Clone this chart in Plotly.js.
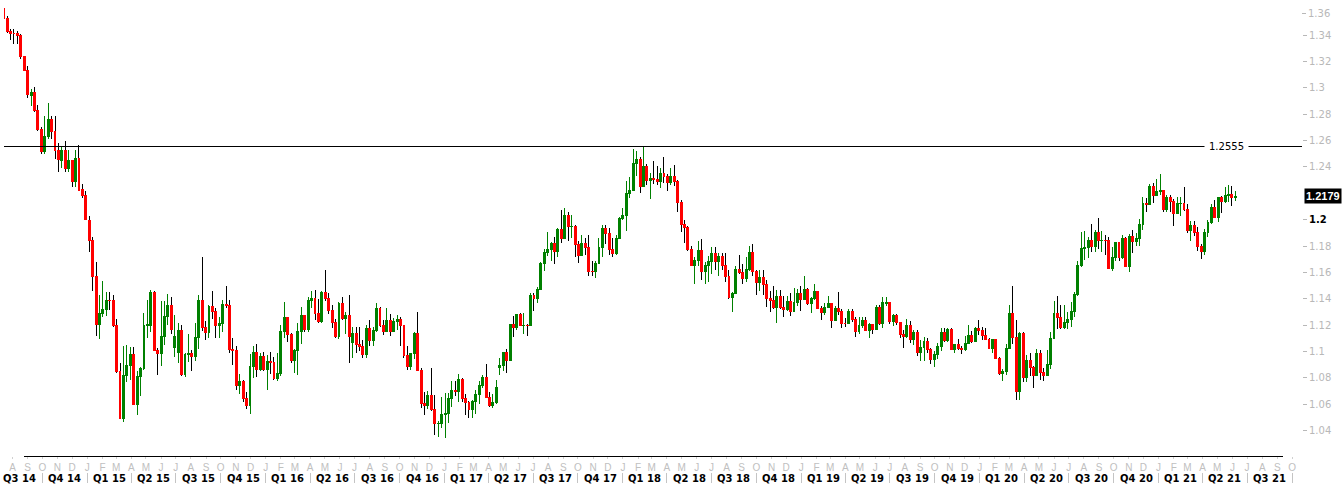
<!DOCTYPE html>
<html><head><meta charset="utf-8">
<script src="https://cdn.plot.ly/plotly-3.0.1.min.js"></script>
<style>
html,body{margin:0;padding:0;background:#fff;}
#chart{width:1343px;height:484px;}
#chart .boxlayer path, #chart .shapelayer path{shape-rendering:crispEdges;}
</style>
</head><body><div id="chart"></div>
<script>
// Weekly EUR/USD candles, first week starting 2014-07-14
const firstWeekStart = [2014, 6, 14];
const openP = [
// 2014
1.3605,1.3525,1.3430,1.3415,1.3410,1.3400,1.3240,1.3130,1.2945,1.2965,1.2830,1.2685,1.2520,1.2630,1.2760,1.2670,1.2525,1.2450,1.2525,1.2390,1.2450,1.2290,1.2465,1.2230,1.2185,
// 2015
1.1995,1.1840,1.1565,1.1205,1.1290,1.1315,1.1390,1.1385,1.1195,1.0845,1.0495,1.0820,1.0890,1.0980,1.0600,1.0810,1.0870,1.1200,1.1200,1.1450,1.1010,1.0985,1.1115,1.1265,1.1350,1.1030,1.0990,1.1160,1.0825,1.0980,1.0985,1.0965,1.1105,1.1385,1.1185,1.1145,1.1340,1.1300,1.1195,1.1215,1.1360,1.1345,1.1015,1.1005,1.0740,1.0770,1.0645,1.0590,1.0885,1.0990,1.0865,1.0965,
// 2016
1.0860,1.0925,1.0915,1.0795,1.0830,1.1155,1.1255,1.1130,1.0930,1.1005,1.1150,1.1270,1.1165,1.1390,1.1400,1.1285,1.1225,1.1450,1.1400,1.1310,1.1220,1.1115,1.1365,1.1250,1.1275,1.1070,1.1135,1.1050,1.1040,1.0975,1.1175,1.1085,1.1160,1.1325,1.1200,1.1155,1.1235,1.1155,1.1225,1.1240,1.1200,1.0970,1.0885,1.0985,1.1140,1.0855,1.0605,1.0590,1.0665,1.0560,1.0450,1.0455,
// 2017
1.0520,1.0530,1.0640,1.0700,1.0695,1.0785,1.0640,1.0615,1.0560,1.0620,1.0670,1.0740,1.0800,1.0650,1.0590,1.0615,1.0880,1.0895,1.0995,1.0930,1.1205,1.1185,1.1280,1.1195,1.1200,1.1195,1.1425,1.1400,1.1470,1.1665,1.1750,1.1775,1.1820,1.1760,1.1925,1.1860,1.2035,1.1945,1.1950,1.1813,1.1730,1.1820,1.1785,1.1610,1.1605,1.1665,1.1790,1.1935,1.1895,1.1770,1.1745,1.1860,
// 2018
1.2005,1.2030,1.2200,1.2220,1.2425,1.2460,1.2255,1.2405,1.2295,1.2310,1.2305,1.2290,1.2350,1.2325,1.2280,1.2330,1.2290,1.2130,1.1960,1.1940,1.1770,1.1655,1.1690,1.1765,1.1610,1.1655,1.1685,1.1745,1.1685,1.1720,1.1655,1.1570,1.1410,1.1440,1.1620,1.1600,1.1555,1.1625,1.1750,1.1605,1.1525,1.1560,1.1510,1.1400,1.1385,1.1335,1.1415,1.1330,1.1315,1.1380,1.1305,1.1370,1.1440,
// 2019
1.1395,1.1470,1.1365,1.1405,1.1455,1.1325,1.1295,1.1335,1.1365,1.1235,1.1325,1.1300,1.1215,1.1215,1.1300,1.1245,1.1150,1.1200,1.1235,1.1160,1.1205,1.1170,1.1335,1.1210,1.1365,1.1370,1.1225,1.1270,1.1220,1.1125,1.1110,1.1200,1.1090,1.1145,1.0990,1.1030,1.1075,1.1015,1.0940,1.0980,1.1040,1.1145,1.1080,1.1165,1.1015,1.1050,1.1020,1.1015,1.1060,1.1120,1.1075,1.1175,
// 2020
1.1160,1.1120,1.1090,1.1025,1.1090,1.0945,1.0830,1.0845,1.1025,1.1285,1.1105,1.0695,1.1140,1.0800,1.0935,1.0875,1.0820,1.0985,1.0840,1.0820,1.0900,1.1100,1.1290,1.1255,1.1180,1.1220,1.1245,1.1300,1.1430,1.1655,1.1780,1.1785,1.1840,1.1795,1.1905,1.1840,1.1845,1.1840,1.1630,1.1715,1.1825,1.1715,1.1860,1.1645,1.1875,1.1835,1.1855,1.1960,1.2120,1.2115,1.2255,1.2185,
// 2021
1.2215,1.2220,1.2080,1.2170,1.2135,1.2045,1.2120,1.2120,1.2075,1.1915,1.1955,1.1905,1.1795,1.1760,1.1900,1.1980,1.2095,1.2020,1.2165,1.2140,1.2180,1.2190,1.2165
];
const highP = [
1.3640,1.3545,1.3445,1.3445,1.3434,1.3410,1.3245,1.3165,1.2995,1.3010,1.2870,1.2700,1.2790,1.2887,1.2790,1.2790,1.2580,1.2550,1.2600,1.2530,1.2455,1.2530,1.2570,1.2270,1.2220,
1.2030,1.1870,1.1680,1.1425,1.1535,1.1450,1.1450,1.1425,1.1245,1.0910,1.1043,1.1052,1.1035,1.1035,1.0850,1.0885,1.1290,1.1390,1.1467,1.1460,1.1025,1.1385,1.1385,1.1436,1.1410,1.1280,1.1215,1.1200,1.0990,1.1130,1.1010,1.1215,1.1430,1.1714,1.1230,1.1355,1.1460,1.1330,1.1265,1.1390,1.1495,1.1390,1.1100,1.1040,1.0830,1.0780,1.0690,1.0980,1.1040,1.1060,1.0985,1.0995,
1.0970,1.0995,1.0960,1.0985,1.1200,1.1376,1.1260,1.1140,1.1020,1.1218,1.1340,1.1275,1.1410,1.1455,1.1464,1.1400,1.1460,1.1616,1.1445,1.1350,1.1250,1.1375,1.1415,1.1300,1.1428,1.1185,1.1185,1.1185,1.1085,1.1200,1.1235,1.1185,1.1365,1.1340,1.1240,1.1327,1.1285,1.1255,1.1280,1.1260,1.1200,1.1040,1.0990,1.1145,1.1300,1.0875,1.0690,1.0700,1.0874,1.0670,1.0475,1.0655,
1.0685,1.0685,1.0775,1.0775,1.0830,1.0800,1.0680,1.0625,1.0630,1.0710,1.0775,1.0825,1.0905,1.0690,1.0680,1.0780,1.0950,1.0995,1.1020,1.1210,1.1270,1.1285,1.1295,1.1295,1.1210,1.1445,1.1440,1.1490,1.1680,1.1775,1.1910,1.1830,1.1865,1.1940,1.2070,1.2090,1.2055,1.2035,1.1960,1.1835,1.1880,1.1860,1.1880,1.1690,1.1690,1.1860,1.1960,1.1960,1.1940,1.1860,1.1880,1.2020,
1.2090,1.2295,1.2325,1.2537,1.2520,1.2475,1.2555,1.2425,1.2355,1.2445,1.2410,1.2390,1.2475,1.2350,1.2395,1.2415,1.2300,1.2150,1.1995,1.1955,1.1800,1.1720,1.1840,1.1850,1.1675,1.1725,1.1790,1.1790,1.1750,1.1750,1.1745,1.1620,1.1450,1.1650,1.1735,1.1665,1.1720,1.1800,1.1815,1.1620,1.1620,1.1620,1.1545,1.1455,1.1500,1.1470,1.1470,1.1420,1.1420,1.1440,1.1485,1.1475,1.1500,
1.1570,1.1485,1.1415,1.1515,1.1460,1.1345,1.1370,1.1420,1.1370,1.1345,1.1450,1.1325,1.1255,1.1325,1.1325,1.1265,1.1265,1.1265,1.1265,1.1215,1.1210,1.1350,1.1350,1.1410,1.1410,1.1375,1.1285,1.1285,1.1225,1.1160,1.1250,1.1230,1.1160,1.1165,1.1085,1.1110,1.1100,1.1025,1.1000,1.1065,1.1180,1.1180,1.1175,1.1175,1.1055,1.1095,1.1040,1.1115,1.1200,1.1155,1.1185,1.1240,
1.1185,1.1175,1.1100,1.1095,1.1095,1.0960,1.0865,1.1055,1.1355,1.1495,1.1235,1.1145,1.1145,1.0970,1.0990,1.0890,1.1020,1.1010,1.0875,1.1010,1.1145,1.1385,1.1422,1.1350,1.1350,1.1300,1.1375,1.1450,1.1690,1.1910,1.1915,1.1865,1.1965,1.1925,1.2010,1.1915,1.1885,1.1870,1.1790,1.1830,1.1830,1.1880,1.1870,1.1890,1.1920,1.1895,1.2005,1.2175,1.2165,1.2272,1.2275,1.2310,
1.2350,1.2225,1.2190,1.2185,1.2155,1.2170,1.2170,1.2245,1.2115,1.1990,1.1990,1.1945,1.1815,1.1930,1.1995,1.2115,1.2150,1.2170,1.2180,1.2245,1.2265,1.2255,1.2218
];
const lowP = [
1.3490,1.3420,1.3366,1.3333,1.3334,1.3220,1.3130,1.2920,1.2860,1.2815,1.2675,1.2500,1.2500,1.2615,1.2610,1.2460,1.2358,1.2390,1.2360,1.2360,1.2247,1.2250,1.2215,1.2165,1.2000,
1.1755,1.1460,1.1115,1.1098,1.1260,1.1270,1.1315,1.1185,1.0840,1.0487,1.0462,1.0765,1.0785,1.0600,1.0520,1.0660,1.0860,1.1105,1.1150,1.1000,1.0820,1.0890,1.1050,1.1200,1.1135,1.0955,1.0915,1.0810,1.0808,1.0920,1.0850,1.0930,1.1020,1.1155,1.1087,1.1100,1.1250,1.1105,1.1105,1.1150,1.1330,1.0990,1.0895,1.0705,1.0675,1.0620,1.0565,1.0525,1.0800,1.0805,1.0850,1.0850,
1.0710,1.0830,1.0780,1.0775,1.0810,1.1100,1.1070,1.0915,1.0835,1.0822,1.1055,1.1145,1.1145,1.1330,1.1235,1.1215,1.1215,1.1385,1.1285,1.1180,1.1100,1.1095,1.1235,1.1130,1.0912,1.0950,1.0990,1.1000,1.0950,1.0950,1.1045,1.1045,1.1150,1.1185,1.1125,1.1150,1.1120,1.1150,1.1165,1.1045,1.0950,1.0860,1.0860,1.0940,1.0850,1.0570,1.0520,1.0560,1.0545,1.0365,1.0352,1.0420,
1.0340,1.0455,1.0580,1.0660,1.0620,1.0620,1.0520,1.0495,1.0495,1.0525,1.0600,1.0725,1.0650,1.0580,1.0570,1.0600,1.0820,1.0850,1.0840,1.0925,1.1110,1.1165,1.1195,1.1130,1.1120,1.1190,1.1310,1.1370,1.1465,1.1610,1.1725,1.1690,1.1660,1.1720,1.1820,1.1855,1.1840,1.1860,1.1715,1.1670,1.1730,1.1730,1.1575,1.1575,1.1555,1.1660,1.1715,1.1815,1.1730,1.1715,1.1735,1.1855,
1.1995,1.1915,1.2165,1.2215,1.2335,1.2205,1.2250,1.2260,1.2155,1.2270,1.2260,1.2240,1.2280,1.2215,1.2260,1.2255,1.2055,1.1910,1.1820,1.1760,1.1645,1.1510,1.1645,1.1540,1.1510,1.1525,1.1590,1.1615,1.1575,1.1615,1.1530,1.1400,1.1300,1.1435,1.1590,1.1510,1.1525,1.1610,1.1570,1.1430,1.1460,1.1430,1.1335,1.1300,1.1320,1.1215,1.1325,1.1265,1.1310,1.1270,1.1300,1.1345,1.1305,
1.1390,1.1350,1.1290,1.1390,1.1320,1.1235,1.1280,1.1330,1.1175,1.1230,1.1275,1.1180,1.1185,1.1210,1.1225,1.1110,1.1135,1.1175,1.1155,1.1105,1.1130,1.1165,1.1200,1.1180,1.1345,1.1205,1.1195,1.1200,1.1100,1.1025,1.1100,1.1065,1.1050,1.0965,1.0925,1.0925,1.0990,1.0905,1.0880,1.0940,1.1000,1.1075,1.1075,1.1010,1.0990,1.1010,1.0980,1.1005,1.1055,1.1065,1.1070,1.1125,
1.1085,1.1085,1.1020,1.0990,1.0940,1.0825,1.0778,1.0820,1.1015,1.1055,1.0635,1.0635,1.0770,1.0770,1.0810,1.0725,1.0810,1.0780,1.0775,1.0815,1.0870,1.1095,1.1170,1.1170,1.1170,1.1170,1.1185,1.1260,1.1420,1.1640,1.1695,1.1710,1.1755,1.1755,1.1780,1.1755,1.1735,1.1625,1.1610,1.1690,1.1690,1.1700,1.1640,1.1605,1.1745,1.1800,1.1800,1.1925,1.2060,1.2110,1.2130,1.2180,
1.2190,1.2055,1.2055,1.2060,1.1950,1.2040,1.2025,1.2065,1.1895,1.1835,1.1875,1.1760,1.1705,1.1735,1.1870,1.1965,1.2015,1.1985,1.2050,1.2130,1.2135,1.2105,1.2145
];
const closeP = [
1.3525,1.3430,1.3415,1.3410,1.3400,1.3240,1.3130,1.2950,1.2965,1.2830,1.2685,1.2520,1.2630,1.2760,1.2670,1.2525,1.2455,1.2525,1.2390,1.2450,1.2290,1.2465,1.2225,1.2185,1.2000,
1.1840,1.1565,1.1205,1.1290,1.1315,1.1390,1.1385,1.1195,1.0845,1.0495,1.0820,1.0890,1.0980,1.0600,1.0810,1.0870,1.1200,1.1205,1.1450,1.1010,1.0985,1.1115,1.1265,1.1350,1.1165,1.1110,1.1160,1.0825,1.0980,1.0985,1.0965,1.1105,1.1385,1.1185,1.1145,1.1340,1.1300,1.1195,1.1215,1.1360,1.1345,1.1015,1.1005,1.0740,1.0770,1.0645,1.0590,1.0885,1.0990,1.0865,1.0965,1.0860,
1.0925,1.0915,1.0795,1.0830,1.1155,1.1255,1.1130,1.0930,1.1005,1.1150,1.1270,1.1165,1.1390,1.1400,1.1285,1.1225,1.1450,1.1400,1.1310,1.1220,1.1115,1.1365,1.1250,1.1275,1.1115,1.1135,1.1050,1.1040,1.0975,1.1175,1.1085,1.1160,1.1325,1.1200,1.1155,1.1235,1.1155,1.1225,1.1240,1.1200,1.0970,1.0885,1.0985,1.1140,1.0855,1.0605,1.0590,1.0665,1.0560,1.0450,1.0455,1.0520,
1.0530,1.0640,1.0700,1.0695,1.0785,1.0640,1.0615,1.0560,1.0620,1.0670,1.0740,1.0800,1.0650,1.0590,1.0615,1.0725,1.0895,1.0995,1.0930,1.1205,1.1185,1.1280,1.1195,1.1200,1.1195,1.1425,1.1400,1.1470,1.1665,1.1750,1.1775,1.1820,1.1760,1.1925,1.1860,1.2035,1.1945,1.1950,1.1813,1.1730,1.1820,1.1785,1.1610,1.1605,1.1665,1.1790,1.1935,1.1895,1.1770,1.1745,1.1860,1.2005,
1.2030,1.2200,1.2220,1.2425,1.2460,1.2255,1.2405,1.2295,1.2310,1.2305,1.2290,1.2350,1.2325,1.2280,1.2330,1.2290,1.2130,1.1960,1.1940,1.1770,1.1655,1.1690,1.1765,1.1610,1.1655,1.1685,1.1745,1.1685,1.1720,1.1655,1.1570,1.1410,1.1440,1.1620,1.1600,1.1555,1.1625,1.1750,1.1605,1.1525,1.1560,1.1510,1.1400,1.1385,1.1335,1.1415,1.1330,1.1315,1.1380,1.1305,1.1370,1.1440,1.1395,
1.1470,1.1365,1.1405,1.1455,1.1325,1.1295,1.1335,1.1365,1.1235,1.1325,1.1300,1.1215,1.1215,1.1300,1.1245,1.1150,1.1200,1.1235,1.1160,1.1205,1.1170,1.1335,1.1210,1.1370,1.1372,1.1225,1.1270,1.1220,1.1125,1.1110,1.1200,1.1090,1.1145,1.0990,1.1030,1.1075,1.1015,1.0940,1.0980,1.1040,1.1145,1.1080,1.1165,1.1015,1.1050,1.1020,1.1015,1.1060,1.1120,1.1075,1.1175,1.1160,
1.1120,1.1090,1.1025,1.1090,1.0945,1.0830,1.0845,1.1025,1.1285,1.1105,1.0695,1.1140,1.0800,1.0935,1.0875,1.0820,1.0985,1.0840,1.0820,1.0900,1.1100,1.1290,1.1255,1.1180,1.1220,1.1245,1.1300,1.1430,1.1655,1.1780,1.1785,1.1840,1.1795,1.1905,1.1840,1.1845,1.1840,1.1630,1.1715,1.1825,1.1715,1.1860,1.1645,1.1875,1.1835,1.1855,1.1960,1.2120,1.2115,1.2255,1.2185,1.2215,
1.2220,1.2080,1.2170,1.2135,1.2045,1.2120,1.2122,1.2075,1.1915,1.1955,1.1905,1.1795,1.1760,1.1900,1.1980,1.2095,1.2020,1.2165,1.2140,1.2180,1.2190,1.2165,1.2179
];
const monthLetters = ['J','F','M','A','M','J','J','A','S','O','N','D'];
const quarterLabels = ['Q3 14','Q4 14','Q1 15','Q2 15','Q3 15','Q4 15','Q1 16','Q2 16','Q3 16','Q4 16','Q1 17','Q2 17','Q3 17','Q4 17','Q1 18','Q2 18','Q3 18','Q4 18','Q1 19','Q2 19','Q3 19','Q4 19','Q1 20','Q2 20','Q3 20','Q4 20','Q1 21','Q2 21','Q3 21'];
const yTickVals = [1.04,1.06,1.08,1.1,1.12,1.14,1.16,1.18,1.2,1.24,1.26,1.28,1.3,1.32,1.34];
const yTickText = ['1.04','1.06','1.08','1.1','1.12','1.14','1.16','1.18','<b><span style="color:#000000">1.2</span></b>','1.24','1.26','1.28','1.3','1.32','1.34'];
const topTickText = '1.36';
const levelPrice = 1.2555;

// ---- build ----
const DAY = 86400000;
const fmt = ms => new Date(ms).toISOString().slice(0,19).replace('T',' ');
const t0 = Date.UTC(firstWeekStart[0], firstWeekStart[1], firstWeekStart[2]);
const dates = openP.map((_, i) => fmt(t0 + i * 7 * DAY));

// pixel layout of the date axis (plot area from x=4 to x=1302, first candle centre at 3.7px, 3.4212px per week)
const pxPerDay = 3.4212 / 7;
const xRange = [fmt(t0 + (4 - 3.7) / pxPerDay * DAY), fmt(t0 + (1302 - 3.7) / pxPerDay * DAY)];

const monthTickVals = [], monthTickText = [];
for (let y = 2014, m = 7; y < 2021 || (y === 2021 && m <= 9);) {
  monthTickVals.push(fmt(Date.UTC(y, m, 1)));
  monthTickText.push(monthLetters[m]);
  m++; if (m > 11) { m = 0; y++; }
}

const annotations = [];
const shapes = [];
const qY = -0.049;
const sepShape = (ms) => ({type:'line', xref:'x', yref:'paper', x0: fmt(ms), x1: fmt(ms), y0: -0.037, y1: -0.060,
    line:{color:'#c4c4c4', width:1}});
quarterLabels.forEach((lab, q) => {
  const qi = 2 + q;
  const y = 2014 + Math.floor(qi / 4), m = (qi % 4) * 3;
  const s = Date.UTC(y, m, 1), e = Date.UTC(y, m + 3, 1);
  annotations.push({xref:'x', yref:'paper', x: fmt((s + e) / 2), y: qY, yanchor:'middle', xanchor:'center', showarrow:false,
    text: '<b>' + lab + '</b>', font:{family:'DejaVu Sans', size:10, color:'#000000'}});
  if (q > 0) shapes.push(sepShape(s));
  if (q === quarterLabels.length - 1) shapes.push(sepShape(e));
});
annotations.push({xref:'paper', yref:'y', x: (1226 - 4) / 1298, xanchor:'center', y: levelPrice, showarrow:false,
  text: levelPrice.toFixed(4), bgcolor:'#ffffff', borderpad:4, font:{family:'DejaVu Sans', size:10, color:'#000000'}});
const lastClose = closeP[closeP.length - 1];
annotations.push({xref:'paper', yref:'y', x: 1, xanchor:'left', xshift:2, y: lastClose, showarrow:false,
  text: '<b>' + lastClose.toFixed(4) + '</b>', bgcolor:'#000000', borderpad:1, font:{family:'Liberation Sans', size:11, color:'#ffffff'}});
// top price label (drawn slightly inside the frame, as in the reference)
const topLabelY = 1 - 13.5 / 456;
annotations.push({xref:'paper', yref:'paper', x: 1, xanchor:'left', xshift:4, y: topLabelY, yanchor:'middle', showarrow:false,
  text: topTickText, font:{family:'DejaVu Sans', size:10, color:'#b8b8b8'}});

shapes.push(
  {type:'line', xref:'paper', yref:'y', x0:0, x1:1, y0:levelPrice, y1:levelPrice, line:{color:'#000000', width:1}},
  {type:'line', xref:'paper', yref:'paper', x0:(24 - 4) / 1298, x1:(1283 - 4) / 1298, y0:0, y1:0, line:{color:'#000000', width:1}},
  {type:'line', xref:'paper', yref:'paper', x0:1, x1:1 + 4 / 1298, y0:topLabelY, y1:topLabelY, line:{color:'#b8b8b8', width:1}}
);

const bodyHigh = openP.map((o, i) => Math.max(o, closeP[i]));
const bodyLow = openP.map((o, i) => Math.min(o, closeP[i]));

const traces = [
  {type:'candlestick', x: dates, open: openP, high: highP, low: lowP, close: closeP,
   increasing:{line:{color:'#008000', width:1}, fillcolor:'#008000'},
   decreasing:{line:{color:'#000000', width:1}, fillcolor:'#ff0000'},
   whiskerwidth:0, hoverinfo:'skip', showlegend:false},
  {type:'candlestick', x: dates, open: openP, high: bodyHigh, low: bodyLow, close: closeP,
   increasing:{line:{color:'#008000', width:1}, fillcolor:'#008000'},
   decreasing:{line:{color:'#ff0000', width:1}, fillcolor:'#ff0000'},
   whiskerwidth:0, hoverinfo:'skip', showlegend:false}
];

const layout = {
  width:1343, height:484,
  margin:{l:4, r:41, t:0, b:28},
  paper_bgcolor:'#ffffff', plot_bgcolor:'#ffffff',
  showlegend:false, hovermode:false,
  boxmode:'overlay', boxgap:0.25, boxgroupgap:0.25,
  font:{family:'DejaVu Sans', size:10},
  xaxis:{type:'date', range:xRange, rangeslider:{visible:false}, showgrid:false, zeroline:false, showline:false,
    tickmode:'array', tickvals: monthTickVals, ticktext: monthTickText, ticks:'outside', ticklen:2, tickcolor:'#d0d0d0',
    tickfont:{family:'Liberation Sans', size:10, color:'#c0c0c0'}, fixedrange:true},
  yaxis:{side:'right', range:[1.02067, 1.36666], tickmode:'array', tickvals: yTickVals, ticktext: yTickText,
    ticks:'outside', ticklen:4, tickcolor:'#b8b8b8', tickfont:{family:'DejaVu Sans', size:10, color:'#b8b8b8'},
    showgrid:false, zeroline:false, showline:false, fixedrange:true},
  shapes: shapes,
  annotations: annotations
};

Plotly.newPlot('chart', traces, layout, {displayModeBar:false, staticPlot:true});
</script>
</body></html>
